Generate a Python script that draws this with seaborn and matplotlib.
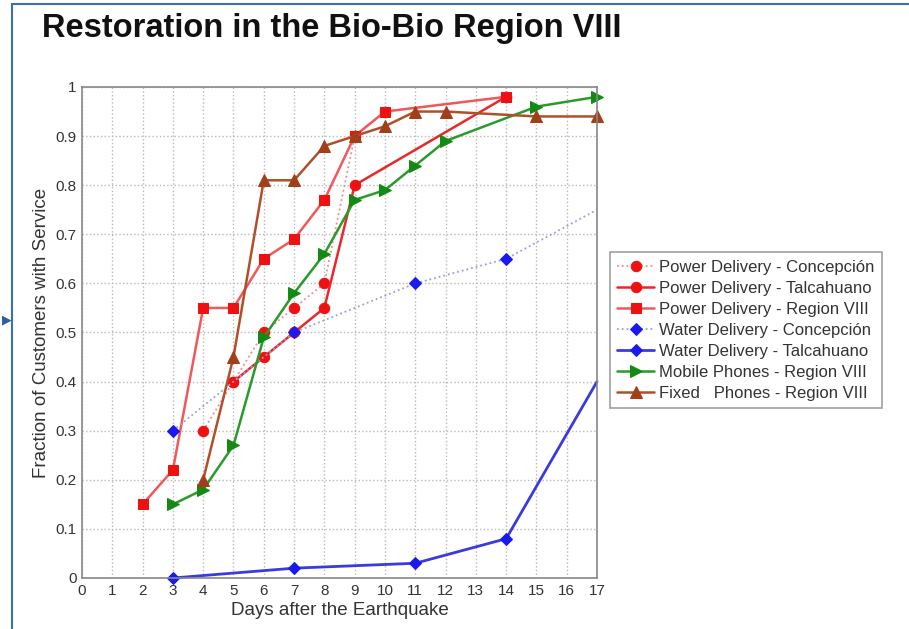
import numpy as np
import matplotlib
matplotlib.use("Agg")
import matplotlib.pyplot as plt
from matplotlib.lines import Line2D
import seaborn as sns

# Restoration data (days after earthquake, fraction with service)
pw_conc_days = [4, 5, 6, 7, 8, 9, 10, 14]
pw_conc_frac = [0.30, 0.40, 0.50, 0.55, 0.60, 0.90, 0.95, 0.98]

pw_talc_days = [5, 6, 7, 8, 9, 14]
pw_talc_frac = [0.40, 0.45, 0.50, 0.55, 0.80, 0.98]

pw_reg_days = [2, 3, 4, 5, 6, 7, 8, 9, 10, 14]
pw_reg_frac = [0.15, 0.22, 0.55, 0.55, 0.65, 0.69, 0.77, 0.90, 0.95, 0.98]

wt_conc_days = [3, 7, 11, 14, 17]
wt_conc_frac = [0.30, 0.50, 0.60, 0.65, 0.75]

wt_talc_days = [3, 7, 11, 14, 17]
wt_talc_frac = [0.00, 0.02, 0.03, 0.08, 0.40]

mob_days = [3, 4, 5, 6, 7, 8, 9, 10, 11, 12, 15, 17]
mob_frac = [0.15, 0.18, 0.27, 0.49, 0.58, 0.66, 0.77, 0.79, 0.84, 0.89, 0.96, 0.98]

fix_days = [4, 5, 6, 7, 8, 9, 10, 11, 12, 15, 17]
fix_frac = [0.20, 0.45, 0.81, 0.81, 0.88, 0.90, 0.92, 0.95, 0.95, 0.94, 0.94]

x_ticks = list(range(0, 18))
y_ticks = [0, 0.1, 0.2, 0.3, 0.4, 0.5, 0.6, 0.7, 0.8, 0.9, 1]
y_labels = ["0", "0.1", "0.2", "0.3", "0.4", "0.5", "0.6", "0.7", "0.8", "0.9", "1"]

sns.set_style("white")
plt.rcParams['font.family'] = ['Liberation Sans', 'DejaVu Sans']

fig = plt.figure(figsize=(9.09, 6.29), dpi=100)
ax = fig.add_axes([0.0902, 0.0811, 0.5666, 0.7806])

ms = 7.5
sns.lineplot(x=pw_conc_days, y=pw_conc_frac, ax=ax, color='#f08a8a', linestyle=':', lw=1.3,
             marker='o', markersize=ms, markerfacecolor='#ee1111', markeredgecolor='#ee1111',
             label='Power Delivery - Concepción')
sns.lineplot(x=pw_talc_days, y=pw_talc_frac, ax=ax, color='#e8282a', lw=1.8,
             marker='o', markersize=ms, markerfacecolor='#ee1111', markeredgecolor='#ee1111',
             label='Power Delivery - Talcahuano')
sns.lineplot(x=pw_reg_days, y=pw_reg_frac, ax=ax, color='#f0585a', lw=1.8,
             marker='s', markersize=ms, markerfacecolor='#ee1111', markeredgecolor='#ee1111',
             label='Power Delivery - Region VIII')
sns.lineplot(x=wt_conc_days, y=wt_conc_frac, ax=ax, color='#9aa0d8', linestyle=':', lw=1.3,
             marker='D', markersize=6.5, markerfacecolor='#1a1aee', markeredgecolor='#1a1aee',
             markevery=[0, 1, 2, 3], label='Water Delivery - Concepción')
sns.lineplot(x=wt_talc_days, y=wt_talc_frac, ax=ax, color='#3a3ae0', lw=2.0,
             marker='D', markersize=6.5, markerfacecolor='#1a1aee', markeredgecolor='#1a1aee',
             markevery=[0, 1, 2, 3], label='Water Delivery - Talcahuano')
sns.lineplot(x=mob_days, y=mob_frac, ax=ax, color='#2a9a2a', lw=1.8,
             marker='>', markersize=8.5, markerfacecolor='#138a13', markeredgecolor='#138a13',
             label='Mobile Phones - Region VIII')
sns.lineplot(x=fix_days, y=fix_frac, ax=ax, color='#b0502a', lw=1.8,
             marker='^', markersize=8, markerfacecolor='#a0401a', markeredgecolor='#a0401a',
             label='Fixed   Phones - Region VIII')

for ln in ax.get_lines():
    ln.set_clip_on(False)

ax.set_xlim(0, 17)
ax.set_ylim(0, 1)
ax.set_xticks(x_ticks)
ax.set_yticks(y_ticks)
ax.set_yticklabels(y_labels)
ax.tick_params(direction='in', length=4, labelsize=11, colors='#333333', pad=4)
ax.grid(True, linestyle=':', color='#b8b8b8', lw=1.0)
for sp in ax.spines.values():
    sp.set_color('#888888')
    sp.set_linewidth(1.2)

ax.set_xlabel('Days after the Earthquake', fontsize=13.5, color='#333333', labelpad=3)
ax.set_ylabel('Fraction of Customers with Service', fontsize=13.5, color='#333333', labelpad=4)

leg = ax.legend(loc='upper left', bbox_to_anchor=(0.671, 0.599), bbox_transform=fig.transFigure,
                borderaxespad=0, fontsize=12, frameon=True, fancybox=False, edgecolor='#888888',
                handlelength=2.2, handletextpad=0.3, labelspacing=0.36, borderpad=0.45)
leg.get_frame().set_linewidth(1.2)
for t in leg.get_texts():
    t.set_color('#333333')

fig.text(0.046, 0.955, 'Restoration in the Bio-Bio Region VIII', fontsize=23.5,
         fontweight='bold', color='#111111', va='center', ha='left')

# slide frame and pointer on the left edge
fig.add_artist(Line2D([0.013, 0.013], [0.0, 0.993], color='#3b6fb0', lw=1.5))
fig.add_artist(Line2D([0.013, 1.0], [0.993, 0.993], color='#3b6fb0', lw=1.5))
fig.text(0.002, 0.491, '\u25b6', fontsize=9, color='#2f5e9c', va='center', ha='left')

fig.savefig('out.png', dpi=100)
